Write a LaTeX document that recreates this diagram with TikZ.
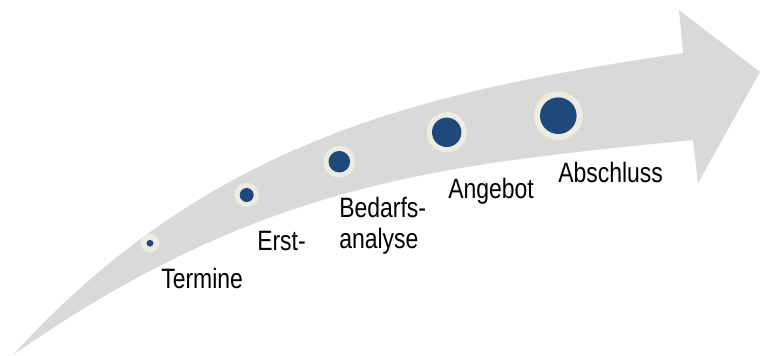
\documentclass[tikz,border=0pt]{standalone}
\usepackage{fontspec}
\setmainfont{Liberation Sans}[FakeStretch=0.82]
\usepackage{tikz}
\usepackage{xcolor}

\definecolor{arrowgray}{HTML}{D9D9D9}
\definecolor{ringcream}{HTML}{EEECE1}
\definecolor{dotblue}{HTML}{1F497D}

\begin{document}
\begin{tikzpicture}[x=0.75pt,y=0.75pt,yscale=-1,xscale=1,
  stage/.style={circle,fill=ringcream,inner sep=0pt,minimum size=#1*0.75pt},
  steplabel/.style={anchor=base west,inner sep=0pt,font=\fontsize{21}{23.25}\selectfont,align=left}]
\useasboundingbox (0,0) rectangle (760,356);

%Shape: Curved Arrow [id:dp_bigarrow]
\fill [arrowgray] (13,355) .. controls (213,135) and (433,90.5) .. (683,53) -- (679,10) -- (760,72) -- (698,183) -- (693,140) .. controls (444,165) and (263,180) .. cycle ;

%Shape: Circles
\node [stage=18.4] (dotTermine) at (150,243.3) {};
\fill [dotblue] (dotTermine.center) circle (3.4);
\node [stage=24.4] (dotErst) at (246.7,195) {};
\fill [dotblue] (dotErst.center) circle (7);
\node [stage=31.6] (dotBedarf) at (339.3,161.7) {};
\fill [dotblue] (dotBedarf.center) circle (10.8);
\node [stage=40] (dotAngebot) at (446.7,132.3) {};
\fill [dotblue] (dotAngebot.center) circle (14.7);
\node [stage=48.6] (dotAbschluss) at (558.3,115.7) {};
\fill [dotblue] (dotAbschluss.center) circle (18.3);

% Text Node
\node [steplabel] (txtTermine) at (161,288) {Termine};
% Text Node
\node [steplabel] (txtErst) at (257,250) {Erst-};
% Text Node
\node [steplabel] (txtBedarf) at (339,248) {Bedarfs-\\analyse};
% Text Node
\node [steplabel] (txtAngebot) at (448,199) {Angebot};
% Text Node
\node [steplabel] (txtAbschluss) at (558,183) {Abschluss};
\end{tikzpicture}
\end{document}
